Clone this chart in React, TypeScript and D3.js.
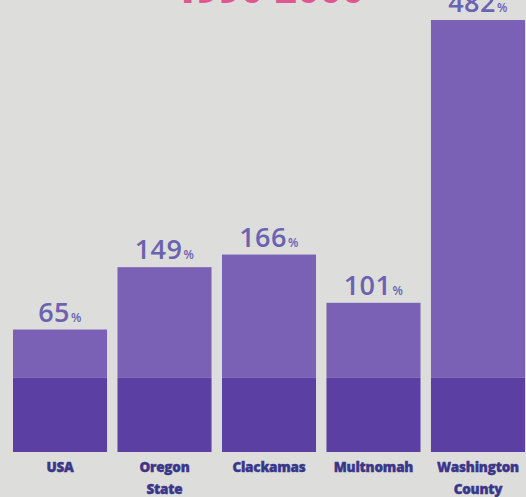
import React from "react";
import * as d3 from "d3";

const categories = ["USA", "Oregon State", "Clackamas", "Multnomah", "Washington County"];
const labelLines = [["USA"], ["Oregon", "State"], ["Clackamas"], ["Multnomah"], ["Washington", "County"]];
const growthPct = [65, 149, 166, 101, 482];
const baseValue = 100;
const titleText = "1990-2000";

const W = 526;
const H = 497;

export default function App() {
  const x = d3.scaleBand<string>().domain(categories).range([13, 525]).paddingInner(0.1).paddingOuter(0);
  const y = d3.scaleLinear().domain([0, baseValue + d3.max(growthPct)!]).range([452, 20]);

  return (
    <svg width={W} height={H} style={{ position: "absolute", left: 0, top: 0, display: "block" }}>
      <rect x={0} y={0} width={W} height={H} fill="#dddedc" />
      <text
        x={269}
        y={3}
        textAnchor="middle"
        fontFamily="'Open Sans', sans-serif"
        fontWeight={800}
        fontSize={38}
        fill="#e0367f"
        opacity={0.8}
      >
        {titleText}
      </text>
      {categories.map((c, i) => {
        const x0 = x(c)!;
        const bw = x.bandwidth();
        const v = growthPct[i];
        return (
          <g key={c}>
            <rect x={x0} y={y(baseValue + v)} width={bw} height={y(baseValue) - y(baseValue + v)} fill="#7a61b6" />
            <rect x={x0} y={y(baseValue)} width={bw} height={y(0) - y(baseValue)} fill="#5b3fa3" />
            <text
              x={x0 + bw / 2}
              y={y(baseValue + v) - 8}
              textAnchor="middle"
              fontFamily="'Open Sans', sans-serif"
              fontWeight={600}
              fontSize={27}
              letterSpacing={0.5}
              fill="#6b62b0"
            >
              {v}
              <tspan fontSize={12} dx={1}>%</tspan>
            </text>
            {labelLines[i].map((ln, j) => (
              <text
                key={j}
                x={x0 + bw / 2}
                y={472 + j * 22}
                textAnchor="middle"
                fontFamily="'Open Sans', sans-serif"
                fontWeight={800}
                fontSize={13.5}
                letterSpacing={-0.2}
                fill="#3a3689"
                stroke="#3a3689"
                strokeWidth={0.4}
              >
                {ln}
              </text>
            ))}
          </g>
        );
      })}
    </svg>
  );
}
